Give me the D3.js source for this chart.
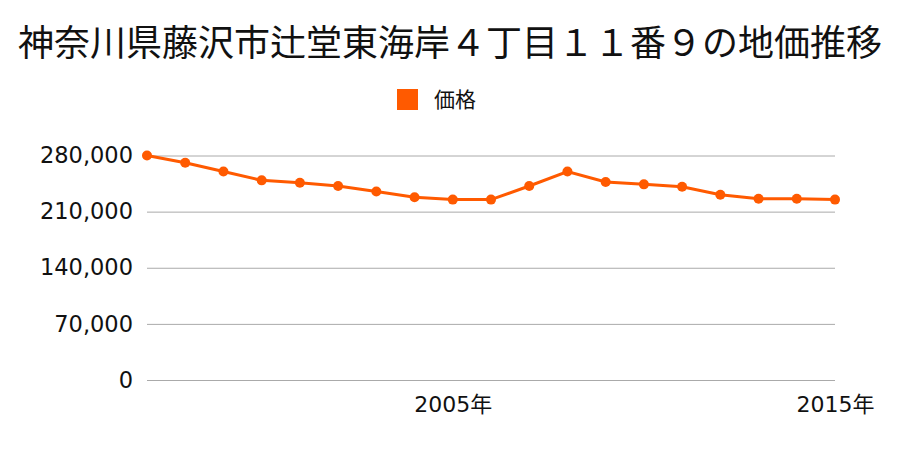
<!DOCTYPE html>
<html><head><meta charset="utf-8">
<script src="https://cdn.jsdelivr.net/npm/d3@7"></script>
<style>body{margin:0;background:#fff}svg{display:block}text{font-family:"Noto Sans CJK JP","Noto Sans",sans-serif}</style>
</head><body><svg id="c" width="900" height="450"></svg>
<script>
const years = [1997,1998,1999,2000,2001,2002,2003,2004,2005,2006,2007,2008,2009,2010,2011,2012,2013,2014,2015];
const prices = [280000,271000,260000,249000,246000,242000,235000,228000,225000,225000,242000,260000,247000,244000,241000,231000,226000,226000,225000];
const yTicks = [0,70000,140000,210000,280000];
const xTickYears = [2005,2015];
const title = "神奈川県藤沢市辻堂東海岸４丁目１１番９の地価推移";
const seriesName = "価格";
const color = "#ff5a00";

const svg = d3.select("#c");
const x = d3.scaleLinear().domain([1997,2015]).range([147,835]);
const y = d3.scaleLinear().domain([0,280000]).range([380,155.5]);

svg.append("text").attr("x",450).attr("y",56).attr("text-anchor","middle")
  .attr("font-size",36).attr("fill","#111").text(title);

svg.append("rect").attr("x",397).attr("y",89).attr("width",21).attr("height",21).attr("fill",color);
svg.append("text").attr("x",434).attr("y",107).attr("font-size",21).attr("fill","#111").text(seriesName);

const yAxis = d3.axisLeft(y).tickValues(yTicks).tickSize(-(835-147)).tickPadding(14)
  .tickFormat(d3.format(","));
const gy = svg.append("g").attr("transform","translate(147,0)").call(yAxis);
gy.select(".domain").remove();
gy.selectAll(".tick line").attr("stroke","#aaa").attr("stroke-width",1);
gy.selectAll(".tick text").attr("font-size",22.5).attr("fill","#111")
  .style("font-family","'DejaVu Sans',sans-serif");

const xAxis = d3.axisBottom(x).tickValues(xTickYears).tickSize(0).tickPadding(16)
  .tickFormat(d=>d+"年");
const gx = svg.append("g").attr("transform","translate(0,380)").call(xAxis);
gx.select(".domain").remove();
gx.selectAll(".tick text").attr("font-size",22).attr("fill","#111")
  .style("font-family","'DejaVu Sans','Noto Sans CJK JP',sans-serif");

const data = years.map((yr,i)=>({yr,v:prices[i]}));
svg.append("path").datum(data).attr("fill","none").attr("stroke",color).attr("stroke-width",3)
  .attr("d",d3.line().x(d=>x(d.yr)).y(d=>y(d.v)));
svg.selectAll("circle.pt").data(data).enter().append("circle").attr("class","pt")
  .attr("cx",d=>x(d.yr)).attr("cy",d=>y(d.v)).attr("r",5).attr("fill",color);
</script></body></html>
